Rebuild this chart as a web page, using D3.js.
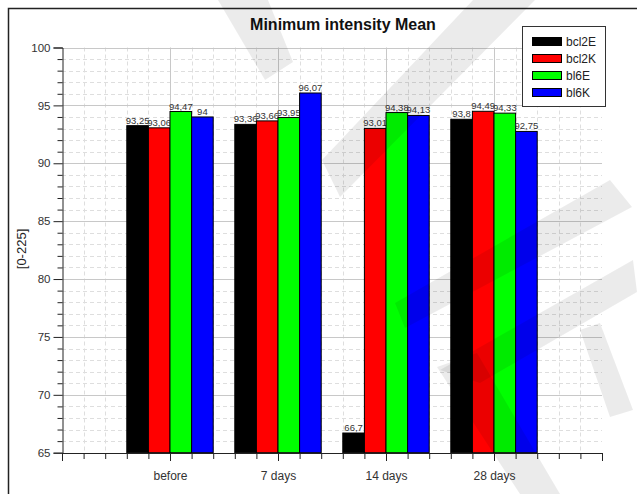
<!DOCTYPE html>
<html><head><meta charset="utf-8">
<script src="https://cdn.jsdelivr.net/npm/d3@7"></script>
<style>body{margin:0;background:#fff}svg{display:block}text{font-family:"Liberation Sans",Arial,sans-serif}</style>
</head><body>
<script>
const title = "Minimum intensity Mean";
const yTitle = "[0-225]";
const categories = ["before", "7 days", "14 days", "28 days"];
const seriesNames = ["bcl2E", "bcl2K", "bl6E", "bl6K"];
const seriesColors = ["#000000", "#ff0000", "#00ff00", "#0000ff"];
const bcl2E = [93.25, 93.36, 66.7, 93.8];
const bcl2K = [93.06, 93.66, 93.01, 94.49];
const bl6E = [94.47, 93.95, 94.38, 94.33];
const bl6K = [94, 96.07, 94.13, 92.75];
const yTicks = [65, 70, 75, 80, 85, 90, 95, 100];
const series = [bcl2E, bcl2K, bl6E, bl6K];

const W = 637, H = 494;
const svg = d3.select("body").append("svg").attr("width", W).attr("height", H);

const x = d3.scaleLinear().domain([0, 5]).range([62, 602]);
const y = d3.scaleLinear().domain([65, 100]).range([452.7, 47.5]);

// outer frame
svg.append("path").attr("d", "M8.5,494 L8.5,8.5 L637,8.5").attr("fill", "none").attr("stroke", "#222").attr("stroke-width", 1.5);

// grid
const g = svg.append("g");
const minorY = d3.range(65, 100.01, 1).filter(v => v % 5 !== 0);
const minorX = d3.range(1, 25).map(v => v * 0.2).filter(v => Math.abs(v - Math.round(v)) > 1e-6);
g.selectAll(".hmin").data(minorY).enter().append("line")
  .attr("x1", x(0)).attr("x2", x(5)).attr("y1", d => Math.round(y(d)) + 0.5).attr("y2", d => Math.round(y(d)) + 0.5)
  .attr("stroke", "#dedede").attr("stroke-dasharray", "4,3");
g.selectAll(".vmin").data(minorX).enter().append("line")
  .attr("y1", y(100)).attr("y2", y(65)).attr("x1", d => Math.round(x(d)) + 0.5).attr("x2", d => Math.round(x(d)) + 0.5)
  .attr("stroke", "#dedede").attr("stroke-dasharray", "4,3");
g.selectAll(".hmaj").data(yTicks.slice(1)).enter().append("line")
  .attr("x1", x(0)).attr("x2", x(5)).attr("y1", d => Math.round(y(d)) + 0.5).attr("y2", d => Math.round(y(d)) + 0.5)
  .attr("stroke", "#c8c8c8");
g.selectAll(".vmaj").data([1, 2, 3, 4]).enter().append("line")
  .attr("y1", y(100)).attr("y2", y(65)).attr("x1", d => Math.round(x(d)) + 0.5).attr("x2", d => Math.round(x(d)) + 0.5)
  .attr("stroke", "#c8c8c8");

// bars
const bw = x(0.2) - x(0);
series.forEach((vals, j) => {
  svg.append("g").selectAll("rect").data(vals).enter().append("rect")
    .attr("x", (d, i) => x(i + 1 - 0.4 + 0.2 * j))
    .attr("width", bw)
    .attr("y", d => y(d))
    .attr("height", d => y(65) - y(d))
    .attr("fill", seriesColors[j]).attr("stroke", "#000").attr("stroke-width", 1);
  svg.append("g").selectAll("text").data(vals).enter().append("text")
    .attr("x", (d, i) => x(i + 1 - 0.3 + 0.2 * j))
    .attr("y", d => y(d) - 2)
    .attr("text-anchor", "middle").attr("font-size", 9.5).attr("fill", "#333")
    .text(d => String(d).replace(".", ","));
});

// y axis
const yAxisMaj = d3.axisLeft(y).tickValues(yTicks).tickSize(9).tickPadding(3).tickFormat(d3.format("d"));
const yAxisMin = d3.axisLeft(y).tickValues(minorY).tickSize(5).tickFormat("");
const ya = svg.append("g").attr("transform", "translate(62.5,0)").call(yAxisMaj);
svg.append("g").attr("transform", "translate(62.5,0)").call(yAxisMin).select(".domain").remove();
ya.selectAll("text").attr("font-size", 11.5).attr("fill", "#333").attr("font-family", "Liberation Sans, Arial, sans-serif");
ya.select(".domain").attr("stroke", "#222");

// x axis
const xAxisMaj = d3.axisBottom(x).tickValues([0, 1, 2, 3, 4, 5]).tickSize(8).tickPadding(10)
  .tickFormat(d => (d >= 1 && d <= 4) ? categories[d - 1] : "");
const xAxisMin = d3.axisBottom(x).tickValues(minorX).tickSize(6).tickFormat("");
const xa = svg.append("g").attr("transform", "translate(0,453)").call(xAxisMaj);
svg.append("g").attr("transform", "translate(0,453)").call(xAxisMin).select(".domain").remove();
xa.selectAll("text").attr("font-size", 12).attr("fill", "#333").attr("font-family", "Liberation Sans, Arial, sans-serif");
xa.select(".domain").attr("stroke", "#222");
svg.selectAll(".tick line").attr("stroke", "#222");

// titles
svg.append("text").attr("x", 343).attr("y", 30).attr("text-anchor", "middle")
  .attr("font-size", 16).attr("font-weight", "bold").attr("fill", "#111").text(title);
svg.append("text").attr("transform", "translate(26,249) rotate(-90)").attr("text-anchor", "middle")
  .attr("font-size", 13).attr("fill", "#222").text(yTitle);

// legend
const lg = svg.append("g");
lg.append("rect").attr("x", 522.5).attr("y", 26.5).attr("width", 83).attr("height", 80)
  .attr("fill", "#fff").attr("stroke", "#333").attr("stroke-width", 1);
seriesNames.forEach((n, j) => {
  lg.append("rect").attr("x", 532.5).attr("y", 37.5 + 17 * j).attr("width", 29).attr("height", 8)
    .attr("fill", seriesColors[j]).attr("stroke", "#000");
  lg.append("text").attr("x", 566).attr("y", 46 + 17 * j).attr("font-size", 12).attr("fill", "#222").text(n);
});

// faint watermark
const wm = [
  [[218,0],[268,0],[293,62],[265,80]],
  [[473,0],[535,0],[340,197],[322,160]],
  [[610,180],[632,207],[405,328],[395,303]],
  [[633,260],[637,292],[480,383],[440,370]],
  [[437,367],[477,353],[560,494],[520,494]],
  [[580,330],[600,323],[633,410],[610,417]]
];
svg.append("g").selectAll("path").data(wm).enter().append("path")
  .attr("d", d => "M" + d.join("L") + "Z").attr("fill", "#000").attr("opacity", 0.08);
</script>
</body></html>
